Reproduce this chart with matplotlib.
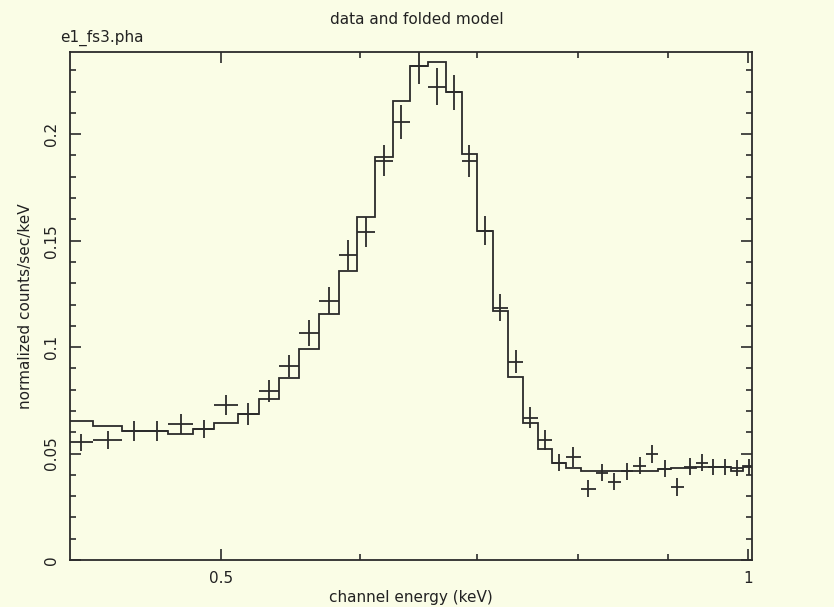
import numpy as np
import matplotlib
matplotlib.use('Agg')
import matplotlib.pyplot as plt
from matplotlib.ticker import FixedLocator, NullFormatter, MultipleLocator

# channel grouping (keV bin edges)
edges = np.array([0.4099, 0.4225, 0.439, 0.4525, 0.4665, 0.482, 0.4955, 0.511,
                  0.526, 0.540, 0.554, 0.569, 0.584, 0.598, 0.6125, 0.627,
                  0.641, 0.6565, 0.672, 0.6865, 0.700, 0.715, 0.7295, 0.744,
                  0.7585, 0.773, 0.787, 0.803, 0.819, 0.832, 0.846, 0.860,
                  0.875, 0.889, 0.904, 0.9195, 0.934, 0.949, 0.963, 0.978,
                  0.994, 1.010])

# data, normalized counts/sec/keV
counts = [0.0552, 0.0564, 0.0607, 0.0607, 0.0639, 0.0616, 0.0729, 0.0686,
          0.0795, 0.0912, 0.1067, 0.1218, 0.1434, 0.1542, 0.1876, 0.2059,
          0.2318, 0.2224, 0.2196, 0.1876, 0.1547, 0.1185, 0.0931, 0.0668,
          0.0564, 0.0456, 0.0484, 0.0334, 0.0409, 0.0367, 0.0418, 0.0442,
          0.0498, 0.0428, 0.0343, 0.0437, 0.0456, 0.0437, 0.0437, 0.0433,
          0.0437]
errors = [0.0040, 0.0042, 0.0047, 0.0047, 0.0045, 0.0042, 0.0047, 0.0050,
          0.0052, 0.0052, 0.0060, 0.0064, 0.0070, 0.0070, 0.0073, 0.0080,
          0.0080, 0.0085, 0.0080, 0.0075, 0.0068, 0.0063, 0.0054, 0.0050,
          0.0047, 0.0040, 0.0045, 0.0040, 0.0040, 0.0040, 0.0040, 0.0040,
          0.0040, 0.0040, 0.0040, 0.0040, 0.0040, 0.0038, 0.0038, 0.0038,
          0.0038]

# folded model
model = [0.0653, 0.0630, 0.0607, 0.0607, 0.0592, 0.0616, 0.0644, 0.0686,
         0.0757, 0.0856, 0.0992, 0.1157, 0.1359, 0.1613, 0.1895, 0.2158,
         0.2318, 0.2337, 0.2196, 0.1909, 0.1547, 0.1171, 0.0860, 0.0644,
         0.0522, 0.0456, 0.0433, 0.0418, 0.0418, 0.0418, 0.0418, 0.0419,
         0.0420, 0.0427, 0.0430, 0.0433, 0.0436, 0.0438, 0.0438, 0.0416,
         0.0443]

bg = '#fafde6'
ink = '#2b2b2b'
fs = 11

fig = plt.figure(figsize=(8.34, 6.07), dpi=100, facecolor=bg)
ax = fig.add_axes([0.0839, 0.0774, 0.8178, 0.8369], facecolor=bg)

lo = edges[:-1]
hi = edges[1:]
xc = np.sqrt(lo * hi)

ax.errorbar(xc, counts, xerr=[xc - lo, hi - xc], yerr=errors, fmt='none',
            ecolor=ink, elinewidth=1.3, capsize=0)
ax.stairs(model, edges, baseline=None, color=ink, linewidth=1.3)

ax.set_xscale('log')
ax.set_xlim(0.4099, 1.0057)
ax.set_ylim(0, 0.2386)

ax.xaxis.set_major_locator(FixedLocator([0.5, 1.0]))
ax.xaxis.set_minor_locator(FixedLocator([0.6, 0.7, 0.8, 0.9]))
ax.xaxis.set_minor_formatter(NullFormatter())
ax.set_xticklabels(['0.5', '1'])
ax.yaxis.set_major_locator(MultipleLocator(0.05))
ax.yaxis.set_minor_locator(MultipleLocator(0.01))
ax.set_yticks([0, 0.05, 0.1, 0.15, 0.2])
ax.set_yticklabels(['0', '0.05', '0.1', '0.15', '0.2'], rotation=90,
                   va='center')

ax.tick_params(which='both', direction='in', top=True, right=True,
               color=ink, labelsize=fs, labelcolor='#222222', width=1.2)
ax.tick_params(which='major', length=8, pad=8)
ax.tick_params(which='minor', length=4)
for s in ax.spines.values():
    s.set_color(ink)
    s.set_linewidth(1.3)

ax.set_xlabel('channel energy (keV)', fontsize=fs, color='#222222',
              labelpad=3)
ax.set_ylabel('normalized counts/sec/keV', fontsize=fs, color='#222222',
              labelpad=8)
fig.text(0.5, 0.968, 'data and folded model', ha='center', va='center',
         fontsize=fs, color='#222222')
ax.text(-0.014, 1.012, 'e1_fs3.pha', transform=ax.transAxes, ha='left',
        va='bottom', fontsize=fs, color='#222222')

fig.savefig('out.png', dpi=100, facecolor=bg)
